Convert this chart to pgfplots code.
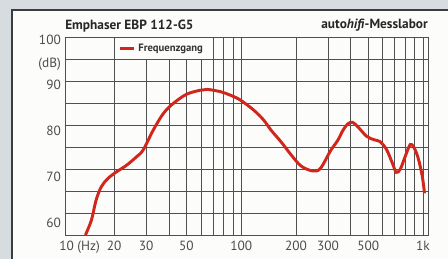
\documentclass[border=0pt]{standalone}
\usepackage{fontspec}
\setmainfont{PT Sans}
\usepackage{pgfplots}
\pgfplotsset{compat=1.18}

\definecolor{curvered}{RGB}{208,38,28}
\definecolor{gridgray}{RGB}{80,80,80}
\definecolor{bggray}{RGB}{214,220,224}
\definecolor{paper}{RGB}{252,252,250}
\definecolor{framegray}{RGB}{60,60,60}

\begin{document}
\begin{tikzpicture}
\path[use as bounding box] (0,0) rectangle (336pt,194.25pt);
\begin{scope}
\clip (0,0) rectangle (336pt,194.25pt);
\fill[bggray] (0,0) rectangle (336pt,194.25pt);
\fill[paper] (9pt,-5pt) rectangle (340pt,186.75pt);
\draw[framegray, line width=1.1pt] (9pt,-5pt) -- (9pt,186.75pt) -- (340pt,186.75pt);
\end{scope}

\node[anchor=base west, inner sep=0, font=\bfseries\fontsize{10}{12}\selectfont, text=black!85] at (48.75pt,172.3pt) {Emphaser EBP 112-G5};
\node[anchor=base east, inner sep=0, font=\fontsize{10}{12}\selectfont, text=black!85] at (321pt,173pt) {\textbf{auto\textit{hifi}-Messlabor}};
\node[anchor=base west, inner sep=0, font=\fontsize{10}{12}\selectfont, text=black!70] at (44.25pt,6pt) {10 (Hz)};

\begin{axis}[
  at={(49.125pt,18pt)}, anchor=south west,
  scale only axis, width=271.875pt, height=148pt,
  xmode=log, xmin=10.8, xmax=1066, ymin=55, ymax=100,
  xtick={20,30,40,50,60,70,80,90,100,200,300,400,500,600,700,800,900,1000},
  xticklabels={20,30,,50,,,,,100,200,300,,500,,,,,1k},
  ytick={60,65,...,100},
  yticklabels={\raisebox{-11pt}{60},,\raisebox{-9.4pt}{70},,\raisebox{-7.6pt}{80},,\raisebox{-6.2pt}{90},\raisebox{-6.2pt}{(dB)},\raisebox{-5.3pt}{100}},
  major tick length=0pt,
  grid=major, grid style={gridgray, line width=0.55pt},
  axis line style={gridgray, line width=0.7pt},
  tick label style={font=\fontsize{10}{12}\selectfont, text=black!70},
  xticklabel style={anchor=base, yshift=-12pt},
  yticklabel style={anchor=base east},
  /pgf/number format/assume math mode=true,
  legend style={at={(0.137,1)}, anchor=north west, draw=none, fill=paper,
    font=\bfseries\fontsize{8}{9}\selectfont, text=black!80,
    inner xsep=2pt, inner ysep=2.5pt},
  legend image code/.code={\draw[#1, line width=2.2pt] (0pt,0pt) -- (11pt,0pt);},
]
\addplot[curvered, line width=2.2pt, smooth, tension=0.55] coordinates {
(13.9,55) (15.0,58.4) (15.9,62.9) (17.0,66.0) (18.5,67.9) (20.6,69.4)
(23.4,70.9) (26.5,72.8) (28.9,74.4) (32.8,78.9) (37.3,82.7) (42.3,85.0)
(50.1,87.1) (59.4,88.0) (65,88.2) (76.6,87.7) (87,86.9) (98.7,85.8)
(117,83.5) (133,81.2) (146,78.9) (166,76.2) (188,73.3) (214,70.7)
(248,69.6) (273,70.2) (310,74.2) (340,76.6) (362,78.8) (385,80.3)
(410,80.7) (440,79.6) (490,77.5) (540,76.7) (580,76.3) (630,74.5)
(680,71.3) (712,69.3) (750,70.0) (800,73.0) (850,75.6) (890,75.0)
(940,72.6) (990,68.5) (1020,64.5)
};
\addlegendentry{Frequenzgang}
\end{axis}
\end{tikzpicture}
\end{document}
